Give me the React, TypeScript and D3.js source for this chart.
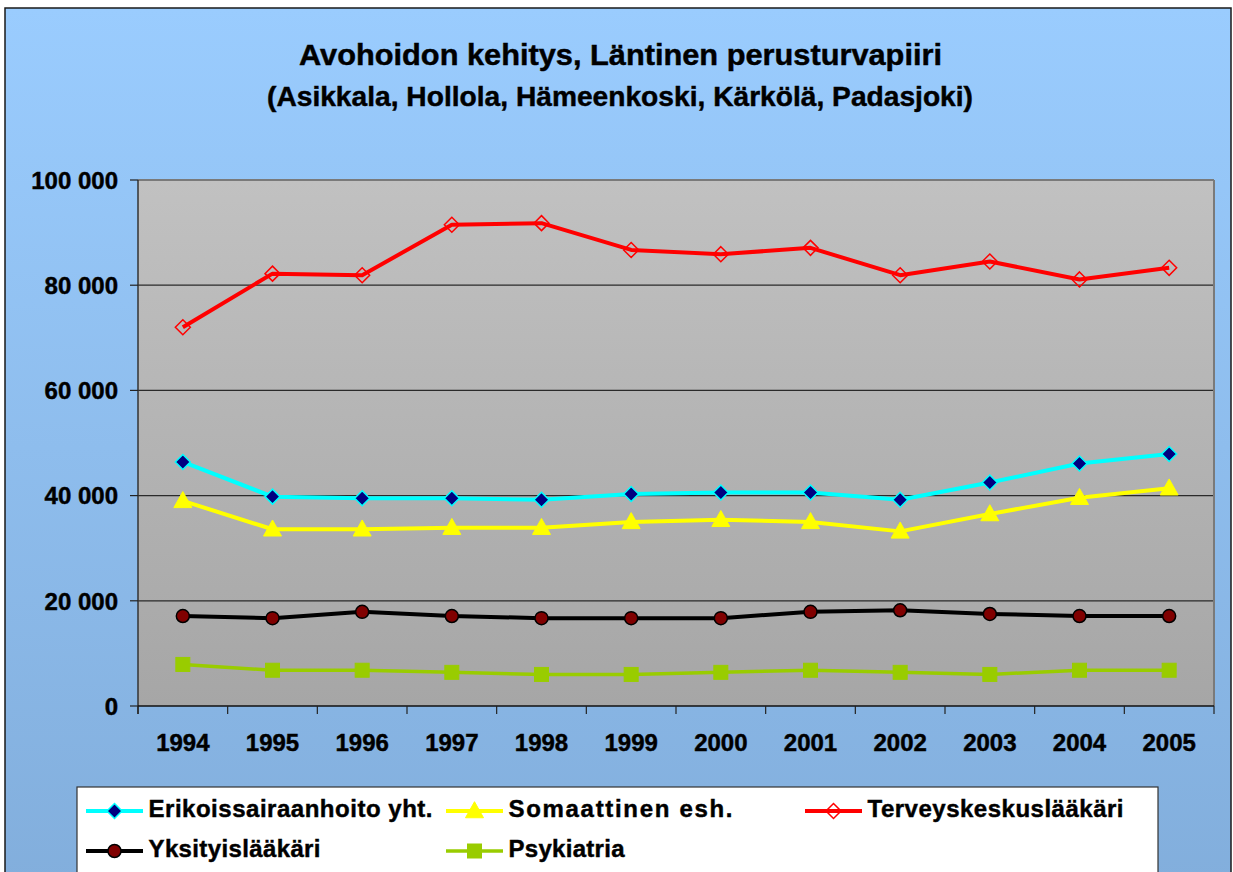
import React from "react";
import * as d3 from "d3";

const years = ["1994","1995","1996","1997","1998","1999","2000","2001","2002","2003","2004","2005"];
const erikoissairaanhoito = [46400, 39800, 39500, 39500, 39200, 40300, 40600, 40600, 39200, 42500, 46100, 47900];
const somaattinen = [39000, 33600, 33600, 33900, 33900, 35000, 35400, 35000, 33200, 36500, 39600, 41400];
const terveyskeskus = [72000, 82200, 81900, 91500, 91800, 86700, 85900, 87100, 81900, 84500, 81100, 83300];
const yksityis = [17100, 16700, 17900, 17100, 16700, 16700, 16700, 17900, 18200, 17500, 17100, 17100];
const psykiatria = [7900, 6800, 6800, 6400, 6000, 6000, 6400, 6800, 6400, 6000, 6800, 6800];
const yTicks = [0, 20000, 40000, 60000, 80000, 100000];
const titleLine1 = "Avohoidon kehitys, Läntinen perusturvapiiri";
const titleLine2 = "(Asikkala, Hollola, Hämeenkoski, Kärkölä, Padasjoki)";

type Marker = "diamondFilled" | "triangle" | "diamondHollow" | "circle" | "square";
interface Series { name: string; values: number[]; color: string; marker: Marker; width: number; }

const series: Series[] = [
  { name: "Psykiatria", values: psykiatria, color: "#99CC00", marker: "square", width: 3.5 },
  { name: "Yksityislääkäri", values: yksityis, color: "#000000", marker: "circle", width: 4 },
  { name: "Somaattinen esh.", values: somaattinen, color: "#FFFF00", marker: "triangle", width: 4 },
  { name: "Erikoissairaanhoito yht.", values: erikoissairaanhoito, color: "#00FFFF", marker: "diamondFilled", width: 4 },
  { name: "Terveyskeskuslääkäri", values: terveyskeskus, color: "#FF0000", marker: "diamondHollow", width: 4 },
];

const legendItems = [
  { s: 3, col: 0, row: 0, len: 284 },
  { s: 2, col: 1, row: 0, len: 224 },
  { s: 4, col: 2, row: 0, len: 256 },
  { s: 1, col: 0, row: 1, len: 172 },
  { s: 0, col: 1, row: 1, len: 116 },
];

const FONT = "'Liberation Sans', Arial, sans-serif";

function MarkerShape({ type, x, y, color }: { type: Marker; x: number; y: number; color: string }) {
  switch (type) {
    case "diamondFilled": {
      const r = 7.5;
      return <path d={`M${x},${y - r}L${x + r},${y}L${x},${y + r}L${x - r},${y}Z`} fill="#000080" stroke={color} strokeWidth={1.5} />;
    }
    case "diamondHollow": {
      const r = 7.5;
      return <path d={`M${x},${y - r}L${x + r},${y}L${x},${y + r}L${x - r},${y}Z`} fill="none" stroke={color} strokeWidth={1.5} />;
    }
    case "triangle": {
      const h = 15, w = 18;
      return <path d={`M${x},${y - h * 0.62}L${x + w / 2},${y + h * 0.45}L${x - w / 2},${y + h * 0.45}Z`} fill={color} stroke={color} strokeWidth={1} />;
    }
    case "circle":
      return <circle cx={x} cy={y} r={6.5} fill="#800000" stroke="#000" strokeWidth={1.5} />;
    case "square":
      return <rect x={x - 7} y={y - 7} width={14} height={14} fill={color} stroke={color} strokeWidth={1} />;
  }
}

export default function App() {
  const W = 1233, H = 872;
  const left = 138, right = 1214, top = 180, bottom = 706;

  const x = d3.scaleBand<string>().domain(years).range([left, right]);
  const y = d3.scaleLinear().domain([0, 100000]).range([bottom, top]);
  const line = d3.line<number>()
    .x((_, i) => (x(years[i]) as number) + x.bandwidth() / 2)
    .y((v) => y(v));
  const fmt = (v: number) => d3.format(",")(v).replace(/,/g, " ");

  const boundaries = years.map((yr) => x(yr) as number).concat([right]);

  const legendCols = [86, 446, 805];
  const legendLineW = 57;
  const legendRows = [811, 851];
  const textStroke = { stroke: "#000", strokeWidth: 0.45 };

  return (
    <svg width={W} height={H} style={{ position: "absolute", left: 0, top: 0 }} fontFamily={FONT}>
      <defs>
        <linearGradient id="bg" x1="0" y1="0" x2="0" y2="1">
          <stop offset="0" stopColor="#9ACCFE" />
          <stop offset="1" stopColor="#82AEDC" />
        </linearGradient>
        <linearGradient id="plotbg" x1="0" y1="0" x2="0" y2="1">
          <stop offset="0" stopColor="#C1C1C1" />
          <stop offset="1" stopColor="#A6A6A6" />
        </linearGradient>
      </defs>
      <rect x={0} y={0} width={W} height={H} fill="#fff" />
      <rect x={5} y={8} width={1226} height={880} fill="url(#bg)" stroke="#1a1a1a" strokeWidth={1.5} />

      <text x={620.5} y={64.5} textAnchor="middle" fontSize={29} fontWeight="bold" textLength={643} lengthAdjust="spacingAndGlyphs" {...textStroke}>{titleLine1}</text>
      <text x={620} y={106} textAnchor="middle" fontSize={28} fontWeight="bold" textLength={706} lengthAdjust="spacingAndGlyphs" {...textStroke}>{titleLine2}</text>

      <rect x={left} y={top} width={right - left} height={bottom - top} fill="url(#plotbg)" />
      {yTicks.filter((t) => t > 0 && t < 100000).map((t) => (
        <line key={t} x1={left} x2={right} y1={y(t)} y2={y(t)} stroke="#2a2a2a" strokeWidth={1.2} />
      ))}
      <line x1={left} x2={right} y1={top} y2={top} stroke="#7a7a7a" strokeWidth={2} />
      <line x1={right} x2={right} y1={top} y2={bottom} stroke="#7a7a7a" strokeWidth={2} />
      <line x1={left} x2={left} y1={top} y2={bottom + 8} stroke="#333" strokeWidth={1.5} />
      <line x1={left} x2={right} y1={bottom} y2={bottom} stroke="#111" strokeWidth={1.5} />

      {yTicks.map((t) => (
        <g key={t}>
          <line x1={left - 8} x2={left} y1={y(t)} y2={y(t)} stroke="#222" strokeWidth={1.2} />
          <text x={118} y={y(t) + 8.7} textAnchor="end" fontSize={24} fontWeight="bold" {...textStroke}>{fmt(t)}</text>
        </g>
      ))}
      {boundaries.map((b, i) => (
        <line key={i} x1={b} x2={b} y1={bottom} y2={bottom + 8} stroke="#222" strokeWidth={1.2} />
      ))}
      {years.map((yr) => (
        <text key={yr} x={(x(yr) as number) + x.bandwidth() / 2} y={750.5} textAnchor="middle" fontSize={24} fontWeight="bold" {...textStroke}>{yr}</text>
      ))}

      {series.map((s) => (
        <g key={s.name}>
          <path d={line(s.values) || ""} fill="none" stroke={s.color} strokeWidth={s.width} strokeLinejoin="round" />
          {s.values.map((v, i) => (
            <MarkerShape key={i} type={s.marker} x={(x(years[i]) as number) + x.bandwidth() / 2} y={y(v)} color={s.color} />
          ))}
        </g>
      ))}

      <rect x={77} y={787} width={1081} height={100} fill="#fff" stroke="#333" strokeWidth={1.2} />
      {legendItems.map((it) => {
        const s = series[it.s];
        const lx = legendCols[it.col];
        const ly = legendRows[it.row];
        return (
          <g key={s.name}>
            <line x1={lx} x2={lx + legendLineW} y1={ly} y2={ly} stroke={s.color} strokeWidth={s.width} />
            <MarkerShape type={s.marker} x={lx + legendLineW / 2} y={ly} color={s.color} />
            <text x={lx + legendLineW + 5.5} y={ly + 6} fontSize={24} fontWeight="bold" textLength={it.len} lengthAdjust="spacing" {...textStroke}>{s.name}</text>
          </g>
        );
      })}
    </svg>
  );
}
